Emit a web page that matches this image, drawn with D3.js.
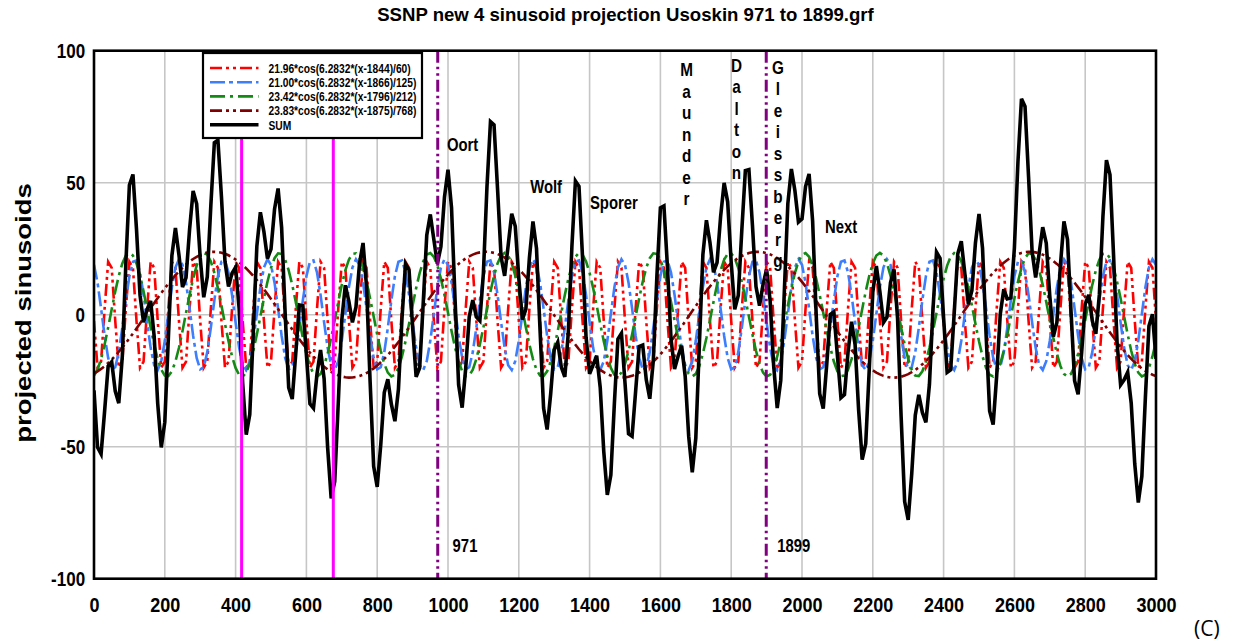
<!DOCTYPE html>
<html>
<head>
<meta charset="utf-8">
<script src="https://cdn.jsdelivr.net/npm/d3@7/dist/d3.min.js"></script>
<style>
  html, body { margin: 0; padding: 0; background: #fff; }
  svg { display: block; }
  text { font-family: "Liberation Sans", Arial, sans-serif; }
</style>
</head>
<body>
<svg id="chart" width="1237" height="642"></svg>
<script>
// ---- Series parameters (amplitude, phase year, period) as given in the legend ----
const amplitudes = [21.96, 21.00, 23.42, 23.83];
const phaseYears = [1844, 1866, 1796, 1875];
const periods    = [60, 125, 212, 768];
const twoPi      = 6.2832;
const seriesColors = ["#ff0000", "#3d7eff", "#138a13", "#800000"];

// Sampled years along the horizontal axis
const sampleYears = d3.range(0, 3001, 10);

// Tick labels
const xTicks = d3.range(0, 3001, 200);
const yTicks = [-100, -50, 0, 50, 100];

// Vertical marker lines
const magentaYears = [417, 676];
const periodBounds = [971, 1899];

// Horizontal annotations: [label, year, value]
const notes = [
  ["Oort", 997, 62],
  ["Wolf", 1232, 46],
  ["Sporer", 1401, 40],
  ["Next", 2065, 31],
  ["971", 1013, -90],
  ["1899", 1930, -90]
];
// Vertical (letter-stacked) annotations: [word, centre year, top value]
const stackedNotes = [
  ["Maunder", 1674, 92.6],
  ["Dalton", 1815, 94.2],
  ["Gleissberg", 1932, 93.6]
];

// ---- Build series ----
const sinusoids = amplitudes.map((a, i) =>
  sampleYears.map(x => ({ x, y: a * Math.cos(twoPi * (x - phaseYears[i]) / periods[i]) }))
);
const sumSeries = sampleYears.map((x, j) => ({ x, y: d3.sum(sinusoids, s => s[j].y) }));

// ---- Layout ----
const svg = d3.select("#chart");
const plot = { left: 94, right: 1156, top: 50.7, bottom: 578.7 };
const sx = 0.85; // horizontal condensing of lettering

const x = d3.scaleLinear().domain([0, 3000]).range([plot.left, plot.right]);
const y = d3.scaleLinear().domain([-100, 100]).range([plot.bottom, plot.top]);

// Grid
const grid = svg.append("g").attr("stroke", "#c6c6c6").attr("stroke-width", 1.6);
grid.selectAll("line.v").data(xTicks.filter(d => d > 0 && d < 3000)).join("line")
  .attr("x1", d => x(d)).attr("x2", d => x(d))
  .attr("y1", plot.top).attr("y2", plot.bottom);
grid.selectAll("line.h").data(yTicks.filter(d => d > -100 && d < 100)).join("line")
  .attr("y1", d => y(d)).attr("y2", d => y(d))
  .attr("x1", plot.left).attr("x2", plot.right);

// Series lines
svg.append("clipPath").attr("id", "plotclip").append("rect")
  .attr("x", plot.left).attr("y", plot.top)
  .attr("width", plot.right - plot.left).attr("height", plot.bottom - plot.top);

const line = d3.line().x(d => x(d.x)).y(d => y(d.y));
const dashes = ["12,4,3,4,3,4", "15,4,4,4", "15,5,3,5", "12,4,3,4,3,4"];

const lines = svg.append("g").attr("clip-path", "url(#plotclip)");
sinusoids.forEach((s, i) => {
  lines.append("path").datum(s)
    .attr("d", line)
    .attr("fill", "none")
    .attr("stroke", seriesColors[i])
    .attr("stroke-width", 2.6)
    .attr("stroke-dasharray", dashes[i]);
});
lines.append("path").datum(sumSeries)
  .attr("d", line)
  .attr("fill", "none")
  .attr("stroke", "#000")
  .attr("stroke-width", 3.6)
  .attr("stroke-linejoin", "miter");

// Vertical markers
svg.append("g").selectAll("line").data(magentaYears).join("line")
  .attr("x1", d => x(d)).attr("x2", d => x(d))
  .attr("y1", plot.top).attr("y2", plot.bottom)
  .attr("stroke", "#ff00ff").attr("stroke-width", 3);
svg.append("g").selectAll("line").data(periodBounds).join("line")
  .attr("x1", d => x(d)).attr("x2", d => x(d))
  .attr("y1", plot.top).attr("y2", plot.bottom)
  .attr("stroke", "#800080").attr("stroke-width", 3)
  .attr("stroke-dasharray", "12,4,2.5,4,2.5,4");

// Plot frame
svg.append("rect")
  .attr("x", plot.left).attr("y", plot.top)
  .attr("width", plot.right - plot.left).attr("height", plot.bottom - plot.top)
  .attr("fill", "none").attr("stroke", "#000").attr("stroke-width", 2.6);

// Axes
const tickFmt = d => String(d);
const xAxis = svg.append("g")
  .attr("transform", `translate(0,${plot.bottom})`)
  .call(d3.axisBottom(x).tickValues(xTicks).tickSize(0).tickFormat(tickFmt));
xAxis.select(".domain").remove();
xAxis.selectAll("text")
  .attr("y", 33.5).attr("dy", 0)
  .attr("transform", `scale(0.9,1)`)
  .attr("fill", "#000")
  .style("font-size", "20px").style("font-weight", "bold")
  .style("font-family", "'Liberation Sans', Arial, sans-serif");

const yAxis = svg.append("g")
  .attr("transform", `translate(${plot.left},0)`)
  .call(d3.axisLeft(y).tickValues(yTicks).tickSize(0).tickFormat(tickFmt));
yAxis.select(".domain").remove();
yAxis.selectAll("text")
  .attr("x", -10.5).attr("dy", "0.36em")
  .attr("transform", `scale(${sx},1)`)
  .attr("fill", "#000")
  .style("font-size", "20px").style("font-weight", "bold")
  .style("font-family", "'Liberation Sans', Arial, sans-serif");

// Scale a text node horizontally so it spans the given width
function fitWidth(node, px, ox, oy) {
  const w = node.getComputedTextLength();
  d3.select(node).attr("transform", `translate(${ox},${oy}) scale(${px / w},1)`);
}

// Title
const title = svg.append("text")
  .attr("text-anchor", "middle")
  .style("font-size", "17.5px").style("font-weight", "bold")
  .text("SSNP new 4 sinusoid projection Usoskin 971 to 1899.grf");
fitWidth(title.node(), 497, 625.5, 21);

// Y axis title
svg.append("text")
  .attr("text-anchor", "middle")
  .attr("transform", `translate(31,313) scale(0.82,1) rotate(-90)`)
  .style("font-size", "27.5px").style("font-weight", "bold")
  .text("projected sinusoids");

// Copyright mark
svg.append("text")
  .attr("x", 1194).attr("y", 636)
  .style("font-family", "'Open Sans', 'Noto Sans', sans-serif")
  .style("font-size", "21px")
  .text("(C)");

// Annotations
svg.append("g").selectAll("text").data(notes).join("text")
  .attr("transform", d => `translate(${x(d[1])},${y(d[2])}) scale(${sx},1)`)
  .style("font-size", "17.5px").style("font-weight", "bold")
  .text(d => d[0]);

const stack = svg.append("g");
stackedNotes.forEach(([word, yr, top]) => {
  stack.selectAll(null).data(word.split("")).join("text")
    .attr("text-anchor", "middle")
    .attr("dominant-baseline", "central")
    .attr("transform", (c, i) => `translate(${x(yr)},${y(top) + i * 21.5}) scale(${sx},1)`)
    .style("font-size", "18px").style("font-weight", "bold")
    .text(c => c);
});

// Legend
const legend = svg.append("g");
legend.append("rect")
  .attr("x", 203).attr("y", 53).attr("width", 219).attr("height", 85)
  .attr("fill", "#fff").attr("stroke", "#000").attr("stroke-width", 2.2);
const legendItems = amplitudes.map((a, i) => ({
  label: `${a.toFixed(2)}*cos(${twoPi}*(x-${phaseYears[i]})/${periods[i]})`,
  color: seriesColors[i], dash: dashes[i], width: 2.6
})).concat([{ label: "SUM", color: "#000", dash: null, width: 3.6 }]);
const rows = legend.selectAll("g.row").data(legendItems).join("g")
  .attr("transform", (d, i) => `translate(0,${68 + i * 14.2})`);
rows.append("line")
  .attr("x1", 210).attr("x2", 258.5).attr("y1", 0).attr("y2", 0)
  .attr("stroke", d => d.color).attr("stroke-width", d => d.width)
  .attr("stroke-dasharray", d => d.dash);
const legendText = rows.append("text")
  .style("font-size", "13.5px").style("font-weight", "bold")
  .text(d => d.label);
// Condense all legend labels by the factor that fits the widest one in the box
const widest = d3.max(legendText.nodes(), n => n.getComputedTextLength());
const legendScale = 148 / widest;
legendText.attr("transform", `translate(268.5,4.7) scale(${legendScale},1)`);
</script>
</body>
</html>
